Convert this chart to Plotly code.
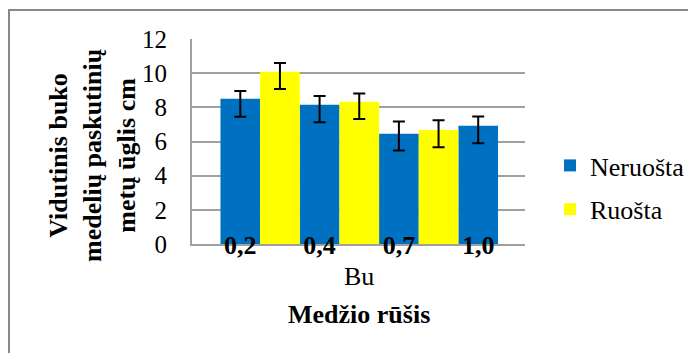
import numpy as np
import plotly.graph_objects as go

# ---- data ----
categories = ["0,2", "0,4", "0,7", "1,0"]
group_label = "Bu"
series_names = ["Neruošta", "Ruošta"]
neruosta = [8.5, 8.15, 6.45, 6.92]
neruosta_err_plus = [0.45, 0.51, 0.72, 0.55]
neruosta_err_minus = [1.05, 1.02, 0.98, 1.02]
ruosta = [10.08, 8.33, 6.68]
ruosta_err_plus = [0.51, 0.48, 0.57]
ruosta_err_minus = [1.01, 1.02, 1.01]
y_ticks = [0, 2, 4, 6, 8, 10, 12]
y_title = "Vidutinis buko<br>medelių paskutinių<br>metų ūglis cm"
x_title = "Medžio rūšis"

FONT = "Liberation Serif, Times New Roman, serif"
BLUE = "#0070C0"
YELLOW = "#FFFF00"
GRID = "#A0A0A0"

# page has an 8px body margin; compensate
OFF = 8
W, H = 696 - OFF, 353 - OFF
PL, PR, PT, PB = 192 - OFF, 525 - OFF, 39 - OFF, 244 - OFF  # plot area in figure px
PW, PH = PR - PL, PB - PT

def px_x(x):
    return (x - OFF - PL) / PW

def px_y(y):
    return (PB - (y - OFF)) / PH

x_blue = np.arange(len(neruosta))
x_yellow = np.arange(len(ruosta)) + 0.5

fig = go.Figure()
fig.add_trace(go.Bar(
    x=x_blue, y=neruosta, width=0.5, name=series_names[0],
    marker=dict(color=BLUE, line=dict(width=0)),
    error_y=dict(type="data", symmetric=False, array=neruosta_err_plus,
                 arrayminus=neruosta_err_minus, color="black", thickness=2, width=6),
    legendgroup="a",
))
fig.add_trace(go.Bar(
    x=x_yellow, y=ruosta, width=0.5, name=series_names[1],
    marker=dict(color=YELLOW, line=dict(width=0)),
    error_y=dict(type="data", symmetric=False, array=ruosta_err_plus,
                 arrayminus=ruosta_err_minus, color="black", thickness=2, width=6),
    legendgroup="b",
))

fig.update_layout(
    width=W, height=H,
    margin=dict(l=PL, r=W - PR, t=PT, b=H - PB, autoexpand=False),
    paper_bgcolor="white", plot_bgcolor="white",
    barmode="overlay",
    font=dict(family=FONT, size=26, color="black"),
    showlegend=True,
    legend=dict(x=px_x(550), y=px_y(142), xanchor="left", yanchor="top",
                font=dict(family=FONT, size=26, color="black"),
                tracegroupgap=7, bgcolor="rgba(0,0,0,0)"),
    xaxis=dict(
        range=[-0.609, 3.59], tickmode="array",
        tickvals=list(range(len(categories))), ticktext=categories,
        tickfont=dict(family=FONT, size=26, color="black", weight="bold"),
        showgrid=False, zeroline=False, showline=True, linecolor=GRID, linewidth=2,
        ticks="", ticklabelstandoff=-23,
    ),
    yaxis=dict(
        range=[0, 12], tickmode="array", tickvals=y_ticks,
        tickfont=dict(family=FONT, size=25, color="black"),
        showgrid=True, gridcolor=GRID, gridwidth=2, zeroline=False,
        showline=True, linecolor=GRID, linewidth=2, ticks="", ticklabelstandoff=18,
    ),
    annotations=[
        dict(text=y_title, xref="paper", yref="paper", x=px_x(92), y=px_y(156),
             xanchor="center", yanchor="middle", textangle=-90, showarrow=False,
             font=dict(family=FONT, size=26, color="black", weight="bold")),
        dict(text=group_label, xref="paper", yref="paper", x=0.5, y=px_y(276),
             xanchor="center", yanchor="middle", showarrow=False,
             font=dict(family=FONT, size=26, color="black")),
        dict(text=x_title, xref="paper", yref="paper", x=0.5, y=px_y(314),
             xanchor="center", yanchor="middle", showarrow=False,
             font=dict(family=FONT, size=26, color="black", weight="bold")),
    ],
    shapes=[
        dict(type="rect", xref="paper", yref="paper",
             x0=px_x(9), x1=px_x(730), y0=px_y(400), y1=px_y(10),
             line=dict(color="#888888", width=2), fillcolor="rgba(0,0,0,0)", layer="below"),
    ],
)

fig.write_html("out.html")
